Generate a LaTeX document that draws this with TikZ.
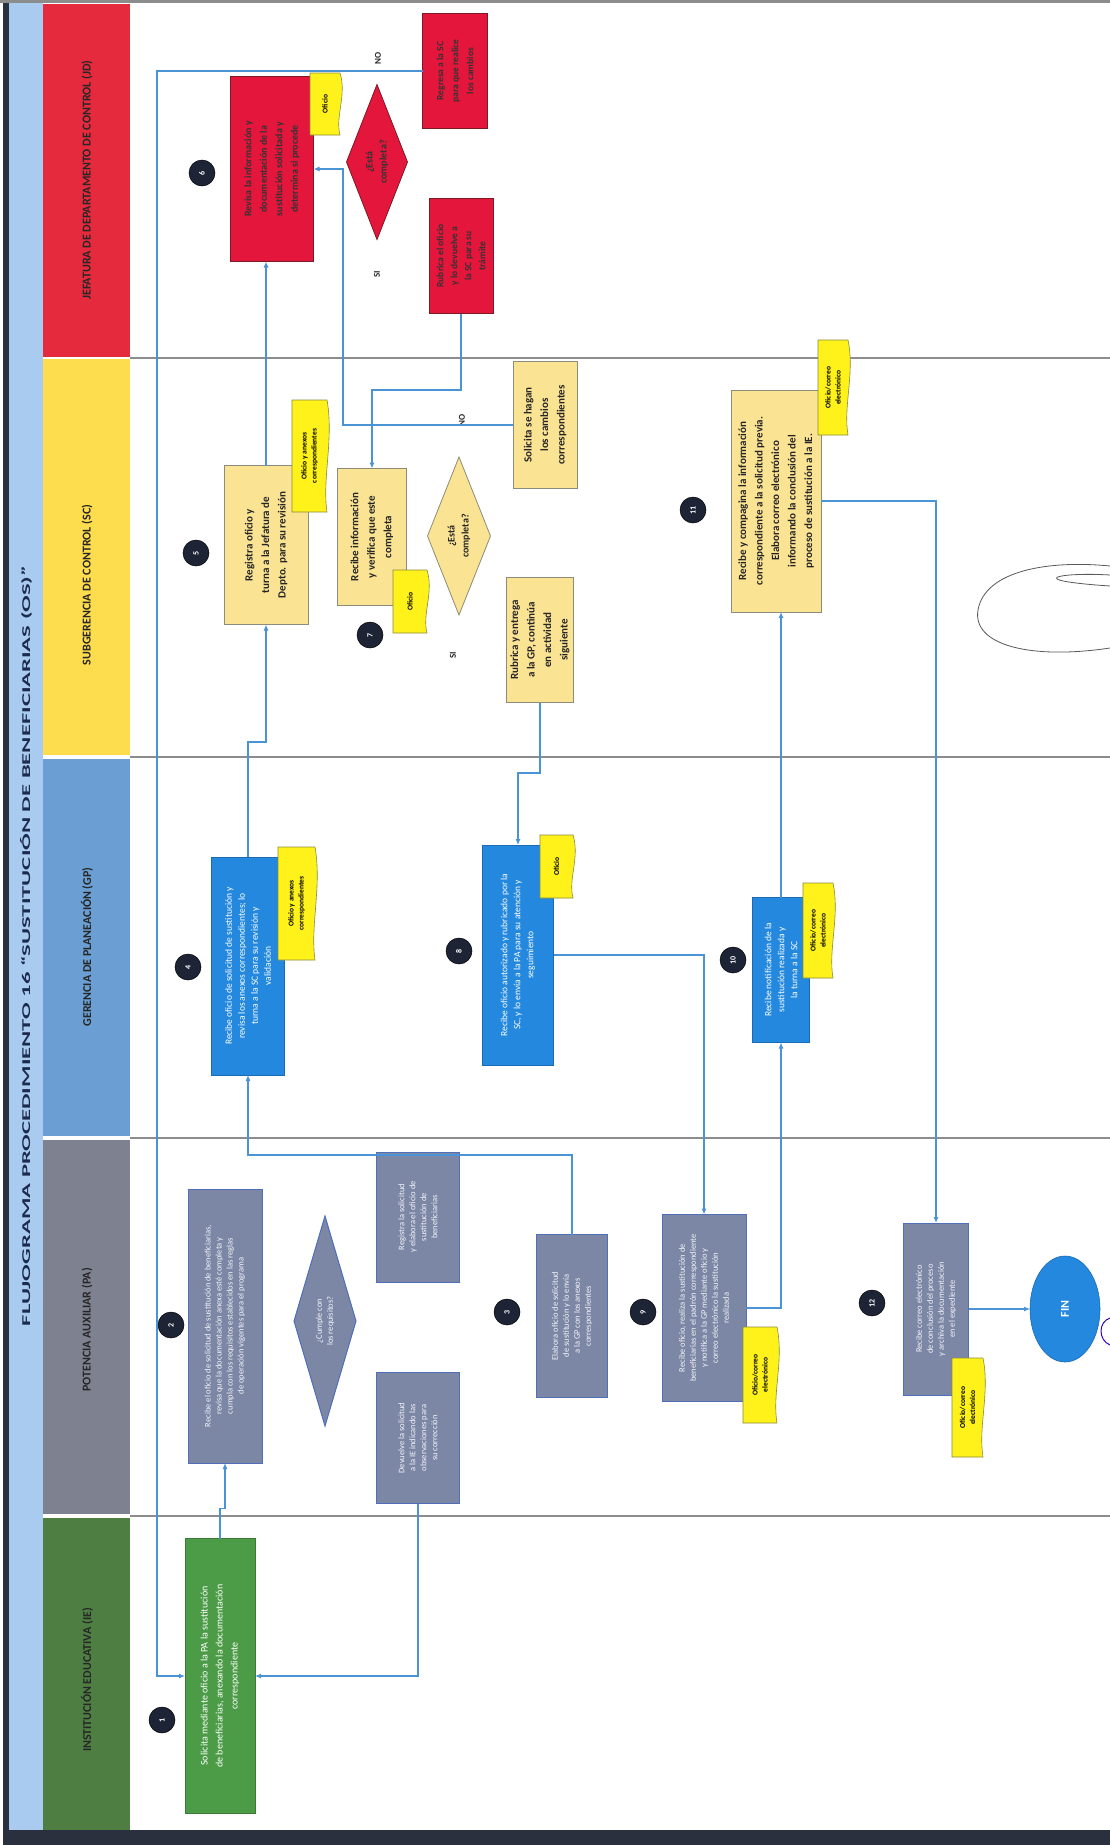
\documentclass[tikz,border=0pt]{standalone}
\usepackage{fontspec}
\setmainfont{Carlito}
\usetikzlibrary{shapes.geometric,arrows.meta}

\definecolor{titlebg}{HTML}{A9CBEF}
\definecolor{titletxt}{HTML}{1C2A4D}
\definecolor{hred}{HTML}{E42A3C}
\definecolor{hyel}{HTML}{FDDC4E}
\definecolor{hblu}{HTML}{6B9ED3}
\definecolor{hgry}{HTML}{7E818F}
\definecolor{hgrn}{HTML}{4F7E43}
\definecolor{rfill}{HTML}{E5163B}
\definecolor{rline}{HTML}{7A1A25}
\definecolor{yfill}{HTML}{FBE394}
\definecolor{yline}{HTML}{8C8C7A}
\definecolor{bfill}{HTML}{2388DE}
\definecolor{bline}{HTML}{1A6BB5}
\definecolor{gfill}{HTML}{7C87A6}
\definecolor{gline}{HTML}{4F6FB8}
\definecolor{efill}{HTML}{4C9B47}
\definecolor{eline}{HTML}{3A7A36}
\definecolor{notefill}{HTML}{FFF21A}
\definecolor{noteline}{HTML}{8A8A3A}
\definecolor{numfill}{HTML}{1D2436}
\definecolor{flowc}{HTML}{4A94D6}
\definecolor{laneline}{HTML}{8C8C8C}
\definecolor{darkbar}{HTML}{2A303E}

% document symbol (wavy edge on the right) with its label
\newcommand\docnote[6]{%
  \filldraw[fill=notefill,draw=noteline,line width=0.6pt]
    (#2,#3) -- (#4,#3)
    .. controls ({#4+7},{#3+(#5-#3)*0.35}) and ({#4-5},{#3+(#5-#3)*0.7}) .. (#4,#5)
    -- (#2,#5) -- cycle;
  \node[notetext] (#1) at ({(#2+#4)/2},{(#3+#5)/2}) {#6};}

\begin{document}
\begin{tikzpicture}[x=1pt,y=-1pt,
  every node/.style={rotate=90,inner sep=0pt,outer sep=0pt},
  sz/.style 2 args={minimum height=#1pt,minimum width=#2pt},
  ybox/.style={rectangle,fill=yfill,draw=yline,line width=0.8pt,align=center,
    text=black!85,font=\fontsize{11}{16.5}\selectfont\bfseries},
  rbox/.style={rectangle,fill=rfill,draw=rline,line width=0.8pt,align=center,
    text=black!80,font=\fontsize{10}{15.5}\selectfont\bfseries},
  bbox/.style={rectangle,fill=bfill,draw=bline,line width=0.6pt,align=center,
    text=white,font=\fontsize{9.5}{13}\selectfont},
  gbox/.style={rectangle,fill=gfill,draw=gline,line width=1pt,align=center,
    text=white!92!gfill,font=\fontsize{8.5}{11}\selectfont},
  ebox/.style={rectangle,fill=efill,draw=eline,line width=0.6pt,align=center,
    text=white,font=\fontsize{10}{15}\selectfont},
  ydia/.style={diamond,fill=yfill,draw=yline,line width=0.8pt,align=center,
    text=black!85,font=\fontsize{10}{14}\selectfont\bfseries},
  rdia/.style={diamond,fill=rfill,draw=rline,line width=0.8pt,align=center,
    text=black!80,font=\fontsize{10}{14}\selectfont\bfseries},
  gdia/.style={diamond,fill=gfill,draw=gline,line width=1pt,align=center,
    text=white!92!gfill,font=\fontsize{8.5}{11}\selectfont},
  num/.style={circle,fill=numfill,draw=black,line width=0.5pt,minimum size=26pt,
    text=white,font=\fontsize{8}{8}\selectfont\bfseries},
  notetext/.style={align=center,text=black,font=\fontsize{7.5}{10}\selectfont\bfseries},
  hdr/.style={font=\fontsize{12}{12}\selectfont\bfseries,text=black!85},
  lbl/.style={font=\fontsize{9}{9}\selectfont\bfseries,text=black!85},
  flow/.style={draw=flowc,line width=1.1pt},
  arr/.style={flow,-{Latex[length=6pt,width=5pt]}},
  sig/.style={draw=black!65,line width=0.8pt,line cap=round},
]
\useasboundingbox (0,0) rectangle (1110,1845);
\fill[white] (0,0) rectangle (1110,1845);

% ---------- frame, title strip and lane headers ----------
\fill[darkbar] (3,0) rectangle (9,1845);
\fill[darkbar] (3,1830) rectangle (1110,1845);
\fill[titlebg] (9,3) rectangle (43,1830);
\draw[laneline,line width=3pt] (0,1.5) -- (1110,1.5);

\fill[hred] (43,4) rectangle (130,357);
\fill[hyel] (43,359) rectangle (130,755);
\fill[hblu] (43,759) rectangle (130,1136);
\fill[hgry] (43,1140) rectangle (130,1514);
\fill[hgrn] (43,1518) rectangle (130,1830);

\node[font=\bfseries,text=titletxt] (title) at (26,946)
  {\resizebox{760pt}{10pt}{FLUJOGRAMA PROCEDIMIENTO 16 “SUSTITUCIÓN DE BENEFICIARIAS (OS)”}};

\node[hdr] (h1) at (87,180) {JEFATURA DE DEPARTAMENTO DE CONTROL (JD)};
\node[hdr] (h2) at (87,585) {SUBGERENCIA DE CONTROL (SC)};
\node[hdr] (h3) at (87,947) {GERENCIA DE PLANEACIÓN (GP)};
\node[hdr] (h4) at (87,1330) {POTENCIA AUXILIAR (PA)};
\node[hdr] (h5) at (87,1680) {INSTITUCIÓN EDUCATIVA (IE)};

% lane separators
\foreach \yy in {358,757,1138,1516}
  \draw[laneline,line width=1.6pt] (130,\yy) -- (1110,\yy);

% ---------- activities ----------
% Institución educativa
\node[ebox,sz={70}{275}] (s1) at (220,1676)
  {Solicita mediante oficio a la PA la sustitución\\de beneficiarias, anexando la documentación\\correspondiente};

% Potencia auxiliar
\node[gbox,sz={74}{274}] (s2) at (225,1326)
  {Recibe el oficio de solicitud de sustitución de beneficiarias,\\revisa que la documentación anexa esté completa y\\cumpla con los requisitos establecidos en las reglas\\de operación vigentes para el programa};
\node[gdia,aspect=3.4,sz={62}{210}] (d2) at (325,1321) {¿Cumple con\\los requisitos?};
\node[gbox,sz={83}{130}] (g2a) at (418,1217)
  {Registra la solicitud\\y elabora el oficio de\\sustitución de\\beneficiarias};
\node[gbox,sz={83}{131}] (g2b) at (418,1438)
  {Devuelve la solicitud\\a la IE indicando las\\observaciones para\\su corrección};
\node[gbox,sz={71}{163}] (s3) at (572,1316)
  {Elabora oficio de solicitud\\de sustitución y lo envía\\a la GP con los anexos\\correspondientes};
\node[gbox,sz={84}{187}] (s9) at (704,1308)
  {Recibe oficio, realiza la sustitución de\\beneficiarias en el padrón correspondiente\\y notifica a la GP mediante oficio y\\correo electrónico la sustitución\\realizada};
\node[gbox,sz={65}{172}] (s12) at (936,1309)
  {Recibe correo electrónico\\de conclusión del proceso\\y archiva la documentación\\en el expediente};
\node[ellipse,fill=bfill,draw=bline,line width=0.6pt,sz={70}{106},
      text=white,font=\fontsize{12}{12}\selectfont\bfseries] (fin) at (1065,1309) {FIN};

% Gerencia de planeación
\node[bbox,sz={73}{218}] (s4) at (248,966)
  {Recibe oficio de solicitud de sustitución y\\revisa los anexos correspondientes; lo\\turna a la SC para su revisión y\\validación};
\node[bbox,sz={71}{220}] (s8) at (518,955)
  {Recibe oficio autorizado y rubricado por la\\SC, y lo envía a la PA para su atención y\\seguimiento};
\node[bbox,sz={57}{145}] (s10) at (781,970)
  {Recibe notificación de la\\sustitución realizada y\\la turna a la SC};

% Subgerencia de control
\node[ybox,sz={84}{159}] (s5) at (266,545)
  {Registra oficio y\\turna a la Jefatura de\\Depto. para su revisión};
\node[ybox,sz={69}{137}] (s7) at (372,537)
  {Recibe información\\y verifica que este\\completa};
\node[ydia,aspect=2.5,sz={63}{158}] (d7) at (459,536) {¿Está\\completa?};
\node[ybox,sz={64}{127}] (y7a) at (545,425)
  {Solicita se hagan\\los cambios\\correspondientes};
\node[ybox,sz={67}{125}] (y7b) at (540,640)
  {Rubrica y entrega\\a la GP, continúa\\en actividad\\siguiente};
\node[ybox,sz={90}{222}] (s11) at (776,501)
  {Recibe y compagina la información\\correspondiente a la solicitud previa.\\Elabora correo electrónico\\informando la conclusión del\\proceso de sustitución a la IE.};

% Jefatura de departamento
\node[rbox,sz={83}{185}] (s6) at (272,169)
  {Revisa la información y\\documentación de la\\sustitución solicitada y\\determina si procede};
\node[rdia,aspect=2.5,sz={61}{155}] (d6) at (377,162) {¿Está\\completa?};
\node[rbox,sz={65}{115},font=\fontsize{9.5}{15}\selectfont\bfseries] (r6a) at (455,71)
  {Regresa a la SC\\para que realice\\los cambios};
\node[rbox,sz={64}{115},font=\fontsize{9.5}{14}\selectfont\bfseries] (r6b) at (461,256)
  {Rubrica el oficio\\y lo devuelve a\\la SC para su\\trámite};

% decision labels
\node[lbl] (l6no) at (378,58) {NO};
\node[lbl] (l6si) at (377,274) {SI};
\node[lbl] (l7no) at (462,420) {NO};
\node[lbl] (l7si) at (453,655) {SI};

% step numbers
\node[num] (c1) at (162,1720) {1};
\node[num] (c2) at (171,1325) {2};
\node[num] (c3) at (507,1312) {3};
\node[num] (c4) at (188,967) {4};
\node[num] (c5) at (196,553) {5};
\node[num] (c6) at (202,173) {6};
\node[num] (c7) at (370,635) {7};
\node[num] (c8) at (459,951) {8};
\node[num] (c9) at (643,1312) {9};
\node[num] (c10) at (733,960) {10};
\node[num] (c11) at (693,510) {11};
\node[num] (c12) at (872,1303) {12};

% ---------- connectors ----------
\draw[arr] (s1.east) -- ++(0,-30) -| (s2.west);
\draw[arr] (g2b.west) |- (s1.south);
\draw[arr] (r6a.north) -- (157,71) |- (s1.north);
\draw[arr] (s3.east) -- (572,1155) -| (s4.west);
\draw[arr] (s4.east) -- (248,742) -| (s5.west);
\draw[arr] (s5.east) -- (s5.east |- s6.west);
\draw[arr] (y7a.north) -- (343,425) |- (s6.south);
\draw[arr] (r6b.west) -- (461,390) -| (s7.east);
\draw[arr] (y7b.west) -- (540,773) -| (s8.east);
\draw[arr] (s8.south) -| (s9.east);
\draw[arr] (s9.south) -| (s10.west);
\draw[arr] (s10.east) -- (s10.east |- s11.west);
\draw[arr] (s11.south) -| (s12.east);
\draw[arr] (s12.south) -- (s12.south -| fin.north);

% ---------- documents ----------
\docnote{n6}{310}{73}{340}{135}{Oficio}
\docnote{n5}{292}{400}{327}{512}{Oficio y anexos\\correspondientes}
\docnote{n7}{393}{570}{427}{633}{Oficio}
\docnote{n11}{818}{340}{848}{435}{Oficio/correo\\electrónico}
\docnote{n4}{278}{847}{315}{960}{Oficio y anexos\\correspondientes}
\docnote{n8}{540}{835}{573}{898}{Oficio}
\docnote{n10}{803}{883}{833}{978}{Oficio/correo\\electrónico}
\docnote{n9}{743}{1327}{777}{1423}{Oficio/correo\\electrónico}
\docnote{n12}{952}{1358}{983}{1457}{Oficio/correo\\electrónico}

% ---------- signatures ----------
\draw[sig] (1110,566) .. controls (1050,560) and (985,570) .. (978,610)
  .. controls (972,645) and (1030,660) .. (1110,648);
\draw[sig] (1110,575) .. controls (1060,572) and (1020,580) .. (1110,586);
\draw[draw=blue!60!violet,line width=1pt,line cap=round]
  (1110,1318) .. controls (1098,1322) and (1098,1340) .. (1110,1345);
\end{tikzpicture}
\end{document}
